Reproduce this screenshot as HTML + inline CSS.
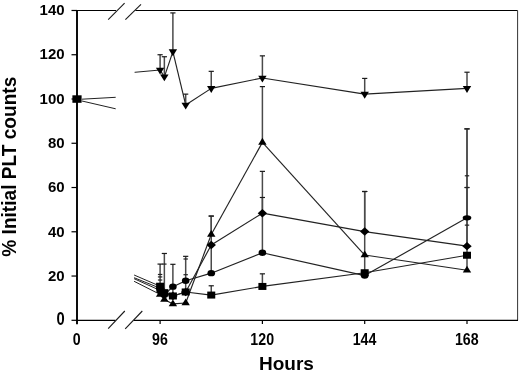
<!DOCTYPE html>
<html><head><meta charset="utf-8"><style>
html,body{margin:0;padding:0;background:#fff;}
svg{display:block;}
.t{will-change:transform;}
text{font-family:"Liberation Sans", sans-serif;font-weight:bold;}
</style></head><body>
<svg width="520" height="373" viewBox="0 0 520 373">
<rect width="520" height="373" fill="#fff"/>
<line x1="77.0" y1="9.9" x2="77.0" y2="324.3" stroke="#000" stroke-width="1.9"/>
<line x1="76" y1="10.5" x2="116" y2="10.5" stroke="#000" stroke-width="1.2"/>
<line x1="135.4" y1="10.5" x2="517.6" y2="10.5" stroke="#000" stroke-width="1.2"/>
<line x1="517.6" y1="10.5" x2="517.6" y2="320.3" stroke="#333" stroke-width="1.0"/>
<line x1="76" y1="320.3" x2="115.4" y2="320.3" stroke="#000" stroke-width="1.2"/>
<line x1="134" y1="320.3" x2="518" y2="320.3" stroke="#000" stroke-width="1.2"/>
<line x1="108.2" y1="19.6" x2="124.6" y2="3.1" stroke="#1a1a1a" stroke-width="1.1"/>
<line x1="125.4" y1="19.6" x2="141" y2="4.4" stroke="#1a1a1a" stroke-width="1.1"/>
<line x1="108.2" y1="328.6" x2="124.8" y2="311" stroke="#1a1a1a" stroke-width="1.1"/>
<line x1="125.2" y1="328.8" x2="142.3" y2="311" stroke="#1a1a1a" stroke-width="1.1"/>
<line x1="71.5" y1="320.3" x2="77" y2="320.3" stroke="#000" stroke-width="1.2"/>
<line x1="71.5" y1="276.04" x2="77" y2="276.04" stroke="#000" stroke-width="1.2"/>
<line x1="71.5" y1="231.78" x2="77" y2="231.78" stroke="#000" stroke-width="1.2"/>
<line x1="71.5" y1="187.52" x2="77" y2="187.52" stroke="#000" stroke-width="1.2"/>
<line x1="71.5" y1="143.26" x2="77" y2="143.26" stroke="#000" stroke-width="1.2"/>
<line x1="71.5" y1="99.0" x2="77" y2="99.0" stroke="#000" stroke-width="1.2"/>
<line x1="71.5" y1="54.74000000000001" x2="77" y2="54.74000000000001" stroke="#000" stroke-width="1.2"/>
<line x1="71.5" y1="10.480000000000018" x2="77" y2="10.480000000000018" stroke="#000" stroke-width="1.2"/>
<line x1="160.1" y1="320.3" x2="160.1" y2="324" stroke="#000" stroke-width="1.2"/>
<line x1="262.4" y1="320.3" x2="262.4" y2="324" stroke="#000" stroke-width="1.2"/>
<line x1="364.70000000000005" y1="320.3" x2="364.70000000000005" y2="324" stroke="#000" stroke-width="1.2"/>
<line x1="467.0" y1="320.3" x2="467.0" y2="324" stroke="#000" stroke-width="1.2"/>
<line x1="160.10" y1="70.01" x2="164.36" y2="76.87" stroke="#222" stroke-width="1.15"/>
<line x1="164.36" y1="76.87" x2="172.89" y2="51.64" stroke="#222" stroke-width="1.15"/>
<line x1="172.89" y1="51.64" x2="185.68" y2="104.98" stroke="#222" stroke-width="1.15"/>
<line x1="185.68" y1="104.98" x2="211.25" y2="88.38" stroke="#222" stroke-width="1.15"/>
<line x1="211.25" y1="88.38" x2="262.40" y2="77.98" stroke="#222" stroke-width="1.15"/>
<line x1="262.40" y1="77.98" x2="364.70" y2="94.13" stroke="#222" stroke-width="1.15"/>
<line x1="364.70" y1="94.13" x2="467.00" y2="88.38" stroke="#222" stroke-width="1.15"/>
<line x1="160.10" y1="294.41" x2="164.36" y2="299.50" stroke="#222" stroke-width="1.15"/>
<line x1="164.36" y1="299.50" x2="172.89" y2="303.92" stroke="#222" stroke-width="1.15"/>
<line x1="172.89" y1="303.92" x2="185.68" y2="303.04" stroke="#222" stroke-width="1.15"/>
<line x1="185.68" y1="303.04" x2="211.25" y2="234.44" stroke="#222" stroke-width="1.15"/>
<line x1="211.25" y1="234.44" x2="262.40" y2="142.37" stroke="#222" stroke-width="1.15"/>
<line x1="262.40" y1="142.37" x2="364.70" y2="255.02" stroke="#222" stroke-width="1.15"/>
<line x1="364.70" y1="255.02" x2="467.00" y2="270.29" stroke="#222" stroke-width="1.15"/>
<line x1="160.10" y1="288.21" x2="164.36" y2="293.74" stroke="#222" stroke-width="1.15"/>
<line x1="164.36" y1="293.74" x2="172.89" y2="295.96" stroke="#222" stroke-width="1.15"/>
<line x1="172.89" y1="295.96" x2="185.68" y2="291.97" stroke="#222" stroke-width="1.15"/>
<line x1="185.68" y1="291.97" x2="211.25" y2="245.06" stroke="#222" stroke-width="1.15"/>
<line x1="211.25" y1="245.06" x2="262.40" y2="213.19" stroke="#222" stroke-width="1.15"/>
<line x1="262.40" y1="213.19" x2="364.70" y2="231.56" stroke="#222" stroke-width="1.15"/>
<line x1="364.70" y1="231.56" x2="467.00" y2="246.16" stroke="#222" stroke-width="1.15"/>
<line x1="160.10" y1="290.42" x2="164.36" y2="294.85" stroke="#222" stroke-width="1.15"/>
<line x1="164.36" y1="294.85" x2="172.89" y2="286.66" stroke="#222" stroke-width="1.15"/>
<line x1="172.89" y1="286.66" x2="185.68" y2="280.69" stroke="#222" stroke-width="1.15"/>
<line x1="185.68" y1="280.69" x2="211.25" y2="273.16" stroke="#222" stroke-width="1.15"/>
<line x1="211.25" y1="273.16" x2="262.40" y2="252.80" stroke="#222" stroke-width="1.15"/>
<line x1="262.40" y1="252.80" x2="364.70" y2="275.60" stroke="#222" stroke-width="1.15"/>
<line x1="364.70" y1="275.60" x2="467.00" y2="217.84" stroke="#222" stroke-width="1.15"/>
<line x1="160.10" y1="286.22" x2="164.36" y2="292.64" stroke="#222" stroke-width="1.15"/>
<line x1="164.36" y1="292.64" x2="172.89" y2="295.96" stroke="#222" stroke-width="1.15"/>
<line x1="172.89" y1="295.96" x2="185.68" y2="291.97" stroke="#222" stroke-width="1.15"/>
<line x1="185.68" y1="291.97" x2="211.25" y2="295.07" stroke="#222" stroke-width="1.15"/>
<line x1="211.25" y1="295.07" x2="262.40" y2="286.44" stroke="#222" stroke-width="1.15"/>
<line x1="262.40" y1="286.44" x2="364.70" y2="272.72" stroke="#222" stroke-width="1.15"/>
<line x1="364.70" y1="272.72" x2="467.00" y2="255.24" stroke="#222" stroke-width="1.15"/>
<line x1="82.00" y1="99.20" x2="115.70" y2="97.30" stroke="#222" stroke-width="1.0"/>
<line x1="82.00" y1="101.00" x2="115.70" y2="108.80" stroke="#222" stroke-width="1.0"/>
<line x1="134.60" y1="72.30" x2="160.10" y2="70.01" stroke="#222" stroke-width="1.0"/>
<line x1="134.10" y1="275.00" x2="160.10" y2="286.22" stroke="#222" stroke-width="1.0"/>
<line x1="134.10" y1="277.70" x2="160.10" y2="288.21" stroke="#222" stroke-width="1.0"/>
<line x1="134.10" y1="278.70" x2="160.10" y2="290.42" stroke="#222" stroke-width="1.0"/>
<line x1="134.10" y1="281.30" x2="160.10" y2="294.41" stroke="#222" stroke-width="1.0"/>
<line x1="160.10" y1="70.01" x2="160.10" y2="54.74" stroke="#4a4a4a" stroke-width="1.5"/>
<line x1="157.50" y1="54.74" x2="162.70" y2="54.74" stroke="#1a1a1a" stroke-width="1.2"/>
<line x1="164.36" y1="76.87" x2="164.36" y2="56.73" stroke="#4a4a4a" stroke-width="1.5"/>
<line x1="161.76" y1="56.73" x2="166.96" y2="56.73" stroke="#1a1a1a" stroke-width="1.2"/>
<line x1="172.89" y1="51.64" x2="172.89" y2="12.91" stroke="#4a4a4a" stroke-width="1.5"/>
<line x1="170.29" y1="12.91" x2="175.49" y2="12.91" stroke="#1a1a1a" stroke-width="1.2"/>
<line x1="185.68" y1="104.98" x2="185.68" y2="94.13" stroke="#4a4a4a" stroke-width="1.5"/>
<line x1="183.08" y1="94.13" x2="188.28" y2="94.13" stroke="#1a1a1a" stroke-width="1.2"/>
<line x1="211.25" y1="88.38" x2="211.25" y2="71.34" stroke="#4a4a4a" stroke-width="1.5"/>
<line x1="208.65" y1="71.34" x2="213.85" y2="71.34" stroke="#1a1a1a" stroke-width="1.2"/>
<line x1="262.40" y1="77.98" x2="262.40" y2="55.85" stroke="#4a4a4a" stroke-width="1.5"/>
<line x1="259.80" y1="55.85" x2="265.00" y2="55.85" stroke="#1a1a1a" stroke-width="1.2"/>
<line x1="364.70" y1="94.13" x2="364.70" y2="78.42" stroke="#4a4a4a" stroke-width="1.5"/>
<line x1="362.10" y1="78.42" x2="367.30" y2="78.42" stroke="#1a1a1a" stroke-width="1.2"/>
<line x1="467.00" y1="88.38" x2="467.00" y2="72.22" stroke="#4a4a4a" stroke-width="1.5"/>
<line x1="464.40" y1="72.22" x2="469.60" y2="72.22" stroke="#1a1a1a" stroke-width="1.2"/>
<line x1="211.25" y1="234.44" x2="211.25" y2="216.07" stroke="#4a4a4a" stroke-width="1.5"/>
<line x1="208.65" y1="216.07" x2="213.85" y2="216.07" stroke="#1a1a1a" stroke-width="1.2"/>
<line x1="262.40" y1="142.37" x2="262.40" y2="86.61" stroke="#4a4a4a" stroke-width="1.5"/>
<line x1="259.80" y1="86.61" x2="265.00" y2="86.61" stroke="#1a1a1a" stroke-width="1.2"/>
<line x1="262.40" y1="213.19" x2="262.40" y2="171.37" stroke="#4a4a4a" stroke-width="1.5"/>
<line x1="259.80" y1="171.37" x2="265.00" y2="171.37" stroke="#1a1a1a" stroke-width="1.2"/>
<line x1="364.70" y1="231.56" x2="364.70" y2="191.50" stroke="#4a4a4a" stroke-width="1.5"/>
<line x1="362.10" y1="191.50" x2="367.30" y2="191.50" stroke="#1a1a1a" stroke-width="1.2"/>
<line x1="467.00" y1="246.16" x2="467.00" y2="187.52" stroke="#4a4a4a" stroke-width="1.5"/>
<line x1="464.40" y1="187.52" x2="469.60" y2="187.52" stroke="#1a1a1a" stroke-width="1.2"/>
<line x1="172.89" y1="286.66" x2="172.89" y2="264.31" stroke="#4a4a4a" stroke-width="1.5"/>
<line x1="170.29" y1="264.31" x2="175.49" y2="264.31" stroke="#1a1a1a" stroke-width="1.2"/>
<line x1="262.40" y1="252.80" x2="262.40" y2="197.48" stroke="#4a4a4a" stroke-width="1.5"/>
<line x1="259.80" y1="197.48" x2="265.00" y2="197.48" stroke="#1a1a1a" stroke-width="1.2"/>
<line x1="467.00" y1="217.84" x2="467.00" y2="128.88" stroke="#4a4a4a" stroke-width="1.5"/>
<line x1="464.40" y1="128.88" x2="469.60" y2="128.88" stroke="#1a1a1a" stroke-width="1.2"/>
<line x1="211.25" y1="295.07" x2="211.25" y2="285.78" stroke="#4a4a4a" stroke-width="1.5"/>
<line x1="208.65" y1="285.78" x2="213.85" y2="285.78" stroke="#1a1a1a" stroke-width="1.2"/>
<line x1="262.40" y1="286.44" x2="262.40" y2="273.83" stroke="#4a4a4a" stroke-width="1.5"/>
<line x1="259.80" y1="273.83" x2="265.00" y2="273.83" stroke="#1a1a1a" stroke-width="1.2"/>
<line x1="160.10" y1="286.22" x2="160.10" y2="264.09" stroke="#4a4a4a" stroke-width="1.5"/>
<line x1="157.50" y1="264.09" x2="162.70" y2="264.09" stroke="#1a1a1a" stroke-width="1.2"/>
<line x1="164.36" y1="292.64" x2="164.36" y2="253.47" stroke="#4a4a4a" stroke-width="1.5"/>
<line x1="161.76" y1="253.47" x2="166.96" y2="253.47" stroke="#1a1a1a" stroke-width="1.2"/>
<line x1="211.25" y1="273.16" x2="211.25" y2="216.07" stroke="#4a4a4a" stroke-width="1.5"/>
<line x1="208.65" y1="216.07" x2="213.85" y2="216.07" stroke="#1a1a1a" stroke-width="1.2"/>
<line x1="185.68" y1="280.69" x2="185.68" y2="256.34" stroke="#4a4a4a" stroke-width="1.5"/>
<line x1="183.08" y1="256.34" x2="188.28" y2="256.34" stroke="#1a1a1a" stroke-width="1.2"/>
<line x1="172.89" y1="295.96" x2="172.89" y2="286.66" stroke="#4a4a4a" stroke-width="1.5"/>
<line x1="170.29" y1="286.66" x2="175.49" y2="286.66" stroke="#1a1a1a" stroke-width="1.2"/>
<line x1="185.68" y1="291.97" x2="185.68" y2="280.69" stroke="#4a4a4a" stroke-width="1.5"/>
<line x1="183.08" y1="280.69" x2="188.28" y2="280.69" stroke="#1a1a1a" stroke-width="1.2"/>
<line x1="364.70" y1="274.05" x2="364.70" y2="191.50" stroke="#4a4a4a" stroke-width="1.5"/>
<line x1="362.10" y1="191.50" x2="367.30" y2="191.50" stroke="#1a1a1a" stroke-width="1.2"/>
<line x1="467.00" y1="270.29" x2="467.00" y2="128.88" stroke="#4a4a4a" stroke-width="1.5"/>
<line x1="464.40" y1="128.88" x2="469.60" y2="128.88" stroke="#1a1a1a" stroke-width="1.2"/>
<line x1="183.48" y1="274.71" x2="187.88" y2="274.71" stroke="#222" stroke-width="1.2"/>
<line x1="162.16" y1="264.09" x2="166.56" y2="264.09" stroke="#222" stroke-width="1.2"/>
<line x1="157.90" y1="274.49" x2="162.30" y2="274.49" stroke="#222" stroke-width="1.2"/>
<line x1="157.90" y1="276.93" x2="162.30" y2="276.93" stroke="#222" stroke-width="1.2"/>
<line x1="157.90" y1="280.02" x2="162.30" y2="280.02" stroke="#222" stroke-width="1.2"/>
<line x1="183.48" y1="259.00" x2="187.88" y2="259.00" stroke="#222" stroke-width="1.2"/>
<line x1="464.80" y1="175.79" x2="469.20" y2="175.79" stroke="#222" stroke-width="1.2"/>
<line x1="464.80" y1="187.52" x2="469.20" y2="187.52" stroke="#222" stroke-width="1.2"/>
<line x1="464.80" y1="225.14" x2="469.20" y2="225.14" stroke="#222" stroke-width="1.2"/>
<polygon points="155.90,67.71 164.30,67.71 160.10,74.51" fill="#000"/>
<polygon points="160.16,74.57 168.56,74.57 164.36,81.37" fill="#000"/>
<polygon points="168.69,49.34 177.09,49.34 172.89,56.14" fill="#000"/>
<polygon points="181.48,102.68 189.88,102.68 185.68,109.48" fill="#000"/>
<polygon points="207.05,86.08 215.45,86.08 211.25,92.88" fill="#000"/>
<polygon points="258.20,75.68 266.60,75.68 262.40,82.48" fill="#000"/>
<polygon points="360.50,91.83 368.90,91.83 364.70,98.63" fill="#000"/>
<polygon points="462.80,86.08 471.20,86.08 467.00,92.88" fill="#000"/>
<polygon points="155.90,296.71 164.30,296.71 160.10,289.91" fill="#000"/>
<polygon points="160.16,301.80 168.56,301.80 164.36,295.00" fill="#000"/>
<polygon points="168.69,306.22 177.09,306.22 172.89,299.42" fill="#000"/>
<polygon points="181.48,305.34 189.88,305.34 185.68,298.54" fill="#000"/>
<polygon points="207.05,236.74 215.45,236.74 211.25,229.94" fill="#000"/>
<polygon points="258.20,144.67 266.60,144.67 262.40,137.87" fill="#000"/>
<polygon points="360.50,257.32 368.90,257.32 364.70,250.52" fill="#000"/>
<polygon points="462.80,272.59 471.20,272.59 467.00,265.79" fill="#000"/>
<polygon points="155.40,288.21 160.10,284.01 164.80,288.21 160.10,292.41" fill="#000"/>
<polygon points="159.66,293.74 164.36,289.54 169.06,293.74 164.36,297.94" fill="#000"/>
<polygon points="168.19,295.96 172.89,291.76 177.59,295.96 172.89,300.16" fill="#000"/>
<polygon points="180.98,291.97 185.68,287.77 190.38,291.97 185.68,296.17" fill="#000"/>
<polygon points="206.55,245.06 211.25,240.86 215.95,245.06 211.25,249.26" fill="#000"/>
<polygon points="257.70,213.19 262.40,208.99 267.10,213.19 262.40,217.39" fill="#000"/>
<polygon points="360.00,231.56 364.70,227.36 369.40,231.56 364.70,235.76" fill="#000"/>
<polygon points="462.30,246.16 467.00,241.96 471.70,246.16 467.00,250.36" fill="#000"/>
<ellipse cx="160.10" cy="290.42" rx="3.8" ry="3.2" fill="#000"/>
<ellipse cx="164.36" cy="294.85" rx="3.8" ry="3.2" fill="#000"/>
<ellipse cx="172.89" cy="286.66" rx="3.8" ry="3.2" fill="#000"/>
<ellipse cx="185.68" cy="280.69" rx="3.8" ry="3.2" fill="#000"/>
<ellipse cx="211.25" cy="273.16" rx="3.8" ry="3.2" fill="#000"/>
<ellipse cx="262.40" cy="252.80" rx="3.8" ry="3.2" fill="#000"/>
<ellipse cx="364.70" cy="275.60" rx="3.8" ry="3.2" fill="#000"/>
<ellipse cx="467.00" cy="217.84" rx="4.3" ry="2.7" fill="#000"/>
<rect x="156.10" y="282.72" width="8.0" height="7.0" fill="#000"/>
<rect x="160.36" y="289.14" width="8.0" height="7.0" fill="#000"/>
<rect x="168.89" y="292.46" width="8.0" height="7.0" fill="#000"/>
<rect x="181.68" y="288.47" width="8.0" height="7.0" fill="#000"/>
<rect x="207.25" y="291.57" width="8.0" height="7.0" fill="#000"/>
<rect x="258.40" y="282.94" width="8.0" height="7.0" fill="#000"/>
<rect x="360.70" y="269.22" width="8.0" height="7.0" fill="#000"/>
<rect x="463.00" y="251.74" width="8.0" height="7.0" fill="#000"/>
<rect x="72.4" y="95.3" width="9.2" height="7.5" fill="#000"/>
<g font-family="Liberation Sans, sans-serif" font-weight="bold" fill="#000" opacity="0.999">
<text transform="translate(64.6,324.80) scale(0.92,1.12)" font-size="16" text-anchor="end">0</text>
<text transform="translate(64.6,280.79) scale(0.97,1)" font-size="15.5" text-anchor="end">20</text>
<text transform="translate(64.6,236.53) scale(0.97,1)" font-size="15.5" text-anchor="end">40</text>
<text transform="translate(64.6,192.27) scale(0.97,1)" font-size="15.5" text-anchor="end">60</text>
<text transform="translate(64.6,148.01) scale(0.97,1)" font-size="15.5" text-anchor="end">80</text>
<text transform="translate(64.6,103.75) scale(0.97,1)" font-size="15.5" text-anchor="end">100</text>
<text transform="translate(64.6,59.49) scale(0.97,1)" font-size="15.5" text-anchor="end">120</text>
<text transform="translate(64.6,15.23) scale(0.97,1)" font-size="15.5" text-anchor="end">140</text>
<text transform="translate(76.80,344.5) scale(0.83,1)" font-size="17.1" text-anchor="middle">0</text>
<text transform="translate(159.90,344.5) scale(0.83,1)" font-size="17.1" text-anchor="middle">96</text>
<text transform="translate(262.20,344.5) scale(0.83,1)" font-size="17.1" text-anchor="middle">120</text>
<text transform="translate(364.50,344.5) scale(0.83,1)" font-size="17.1" text-anchor="middle">144</text>
<text transform="translate(466.80,344.5) scale(0.83,1)" font-size="17.1" text-anchor="middle">168</text>
<text x="286.5" y="370.3" font-size="19" text-anchor="middle" >Hours</text>
<text transform="translate(16.4,166.7) rotate(-90) scale(1,1.05)" x="0" y="0" font-size="19.1" text-anchor="middle">% Initial PLT counts</text>
</g>
</svg>
</body></html>
